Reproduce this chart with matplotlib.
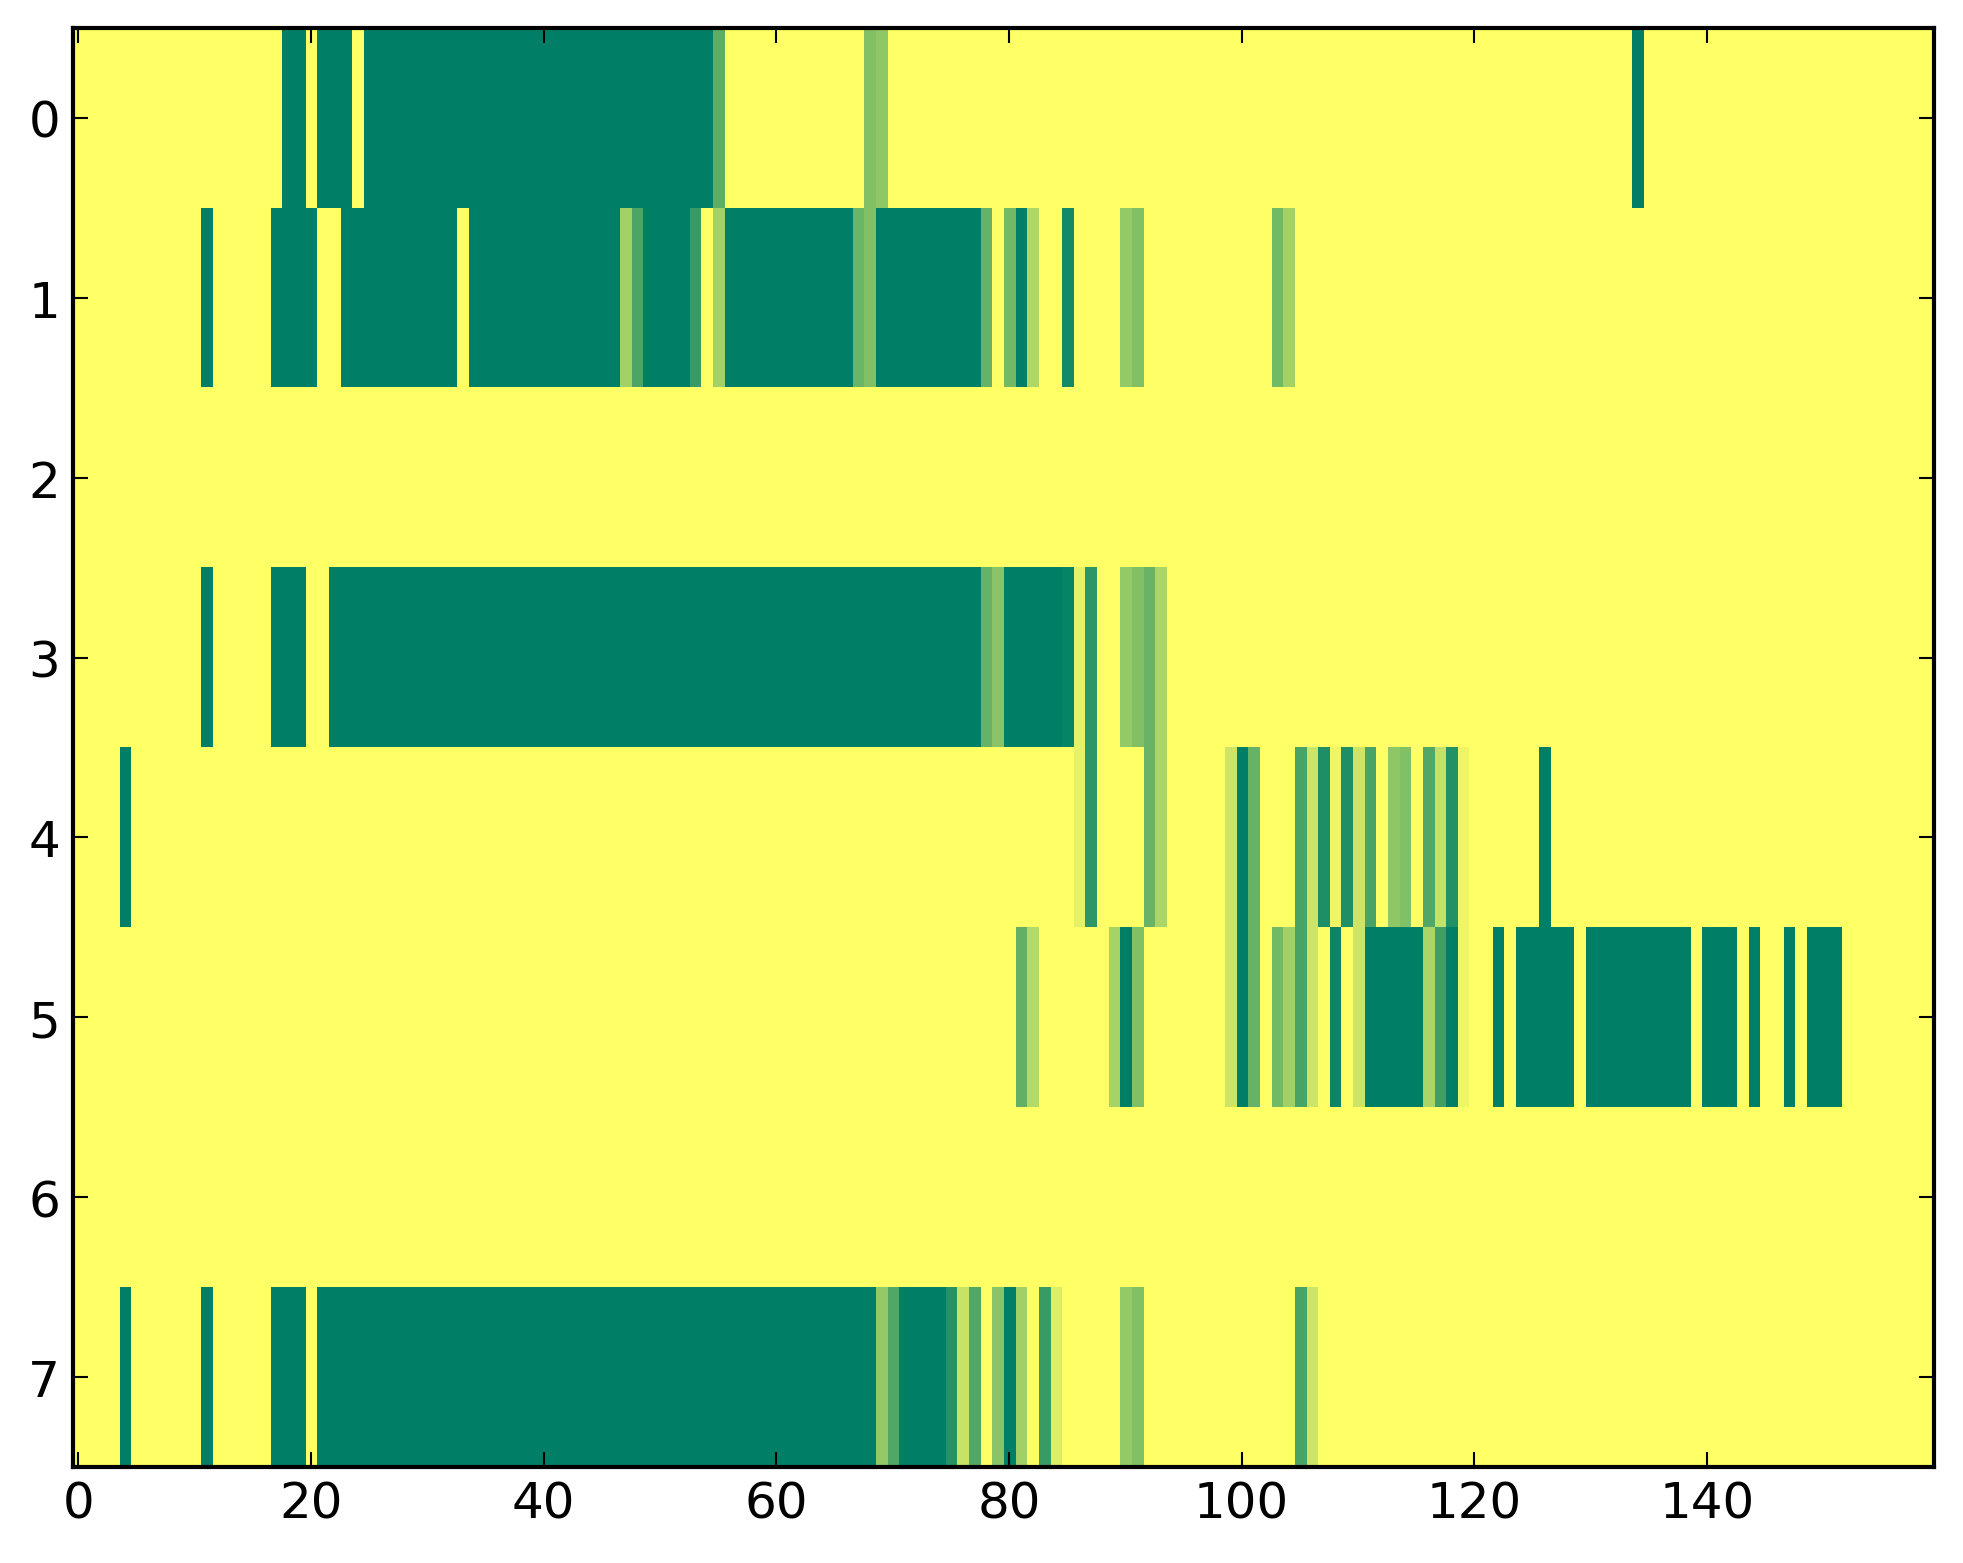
import numpy as np
import matplotlib
matplotlib.use("Agg")
import matplotlib.pyplot as plt

n_rows = 8
n_cols = 160

# runs per row: (first column, last column, value)
row0 = [(18, 19, 1.0), (21, 23, 1.0), (25, 54, 1.0), (55, 55, 0.63),
        (68, 68, 0.49), (69, 69, 0.44), (134, 134, 1.0)]
row1 = [(11, 11, 1.0), (17, 20, 1.0), (23, 32, 1.0), (34, 46, 1.0),
        (47, 47, 0.36), (48, 48, 0.70), (49, 52, 1.0), (53, 53, 0.78),
        (55, 55, 0.36), (56, 66, 1.0), (67, 67, 0.58), (68, 68, 0.49),
        (69, 77, 1.0), (78, 78, 0.60), (80, 80, 0.55), (81, 81, 1.0),
        (82, 82, 0.31), (85, 85, 0.92), (90, 90, 0.42), (91, 91, 0.49),
        (103, 103, 0.55), (104, 104, 0.36)]
row2 = []
row3 = [(11, 11, 1.0), (17, 19, 1.0), (22, 77, 1.0), (78, 78, 0.60),
        (79, 79, 0.46), (80, 84, 1.0), (85, 85, 0.97), (86, 86, 0.10),
        (87, 87, 0.82), (90, 90, 0.42), (91, 91, 0.49), (92, 92, 0.59),
        (93, 93, 0.33)]
row4 = [(4, 4, 1.0), (86, 86, 0.10), (87, 87, 0.82), (92, 92, 0.59),
        (93, 93, 0.33), (99, 99, 0.20), (100, 100, 1.0), (101, 101, 0.60),
        (105, 105, 0.72), (106, 106, 0.20), (107, 107, 0.88), (108, 108, 0.07),
        (109, 109, 0.88), (110, 110, 0.20), (111, 111, 0.72), (113, 113, 0.44),
        (114, 114, 0.49), (116, 116, 0.68), (117, 117, 0.23), (118, 118, 0.86),
        (119, 119, 0.07), (126, 126, 1.0)]
row5 = [(81, 81, 0.62), (82, 82, 0.30), (89, 89, 0.35), (90, 90, 1.0),
        (91, 91, 0.49), (99, 99, 0.20), (100, 100, 1.0), (101, 101, 0.60),
        (103, 103, 0.55), (104, 104, 0.37), (105, 105, 0.72), (106, 106, 0.20),
        (108, 108, 0.95), (110, 110, 0.20), (111, 115, 1.0), (116, 116, 0.33),
        (117, 117, 0.75), (118, 118, 1.0), (119, 119, 0.07), (122, 122, 1.0),
        (124, 128, 1.0), (130, 138, 1.0), (140, 142, 1.0), (144, 144, 1.0),
        (147, 147, 1.0), (149, 151, 1.0)]
row6 = []
row7 = [(4, 4, 1.0), (11, 11, 1.0), (17, 19, 1.0), (21, 68, 1.0),
        (69, 69, 0.42), (70, 70, 0.68), (71, 74, 1.0), (75, 75, 0.85),
        (76, 76, 0.22), (77, 77, 0.68), (79, 79, 0.46), (80, 80, 1.0),
        (81, 81, 0.37), (83, 83, 0.78), (84, 84, 0.14), (90, 90, 0.42),
        (91, 91, 0.49), (105, 105, 0.72), (106, 106, 0.20)]

rows = [row0, row1, row2, row3, row4, row5, row6, row7]
data = np.zeros((n_rows, n_cols))
for r, runs in enumerate(rows):
    for a, b, v in runs:
        data[r, a:b + 1] = v

W, H, DPI = 1963, 1564, 300
fig = plt.figure(figsize=(W / DPI, H / DPI), dpi=DPI)
ax = fig.add_axes([72.5 / W, 1 - 1468 / H, (1933.8 - 72.5) / W, (1468 - 29) / H])
ax.imshow(data, cmap="summer_r", vmin=0, vmax=1, aspect="auto",
          interpolation="nearest")
ax.set_xticks([0, 20, 40, 60, 80, 100, 120, 140])
ax.set_yticks(range(8))
ax.tick_params(direction="in", top=True, right=True, length=3.6, width=0.5,
               labelsize=12, pad=3)
for s in ax.spines.values():
    s.set_linewidth(1.0)
for lab in ax.get_xticklabels() + ax.get_yticklabels():
    lab.set_family("DejaVu Sans")
fig.savefig("out.png", dpi=DPI)
